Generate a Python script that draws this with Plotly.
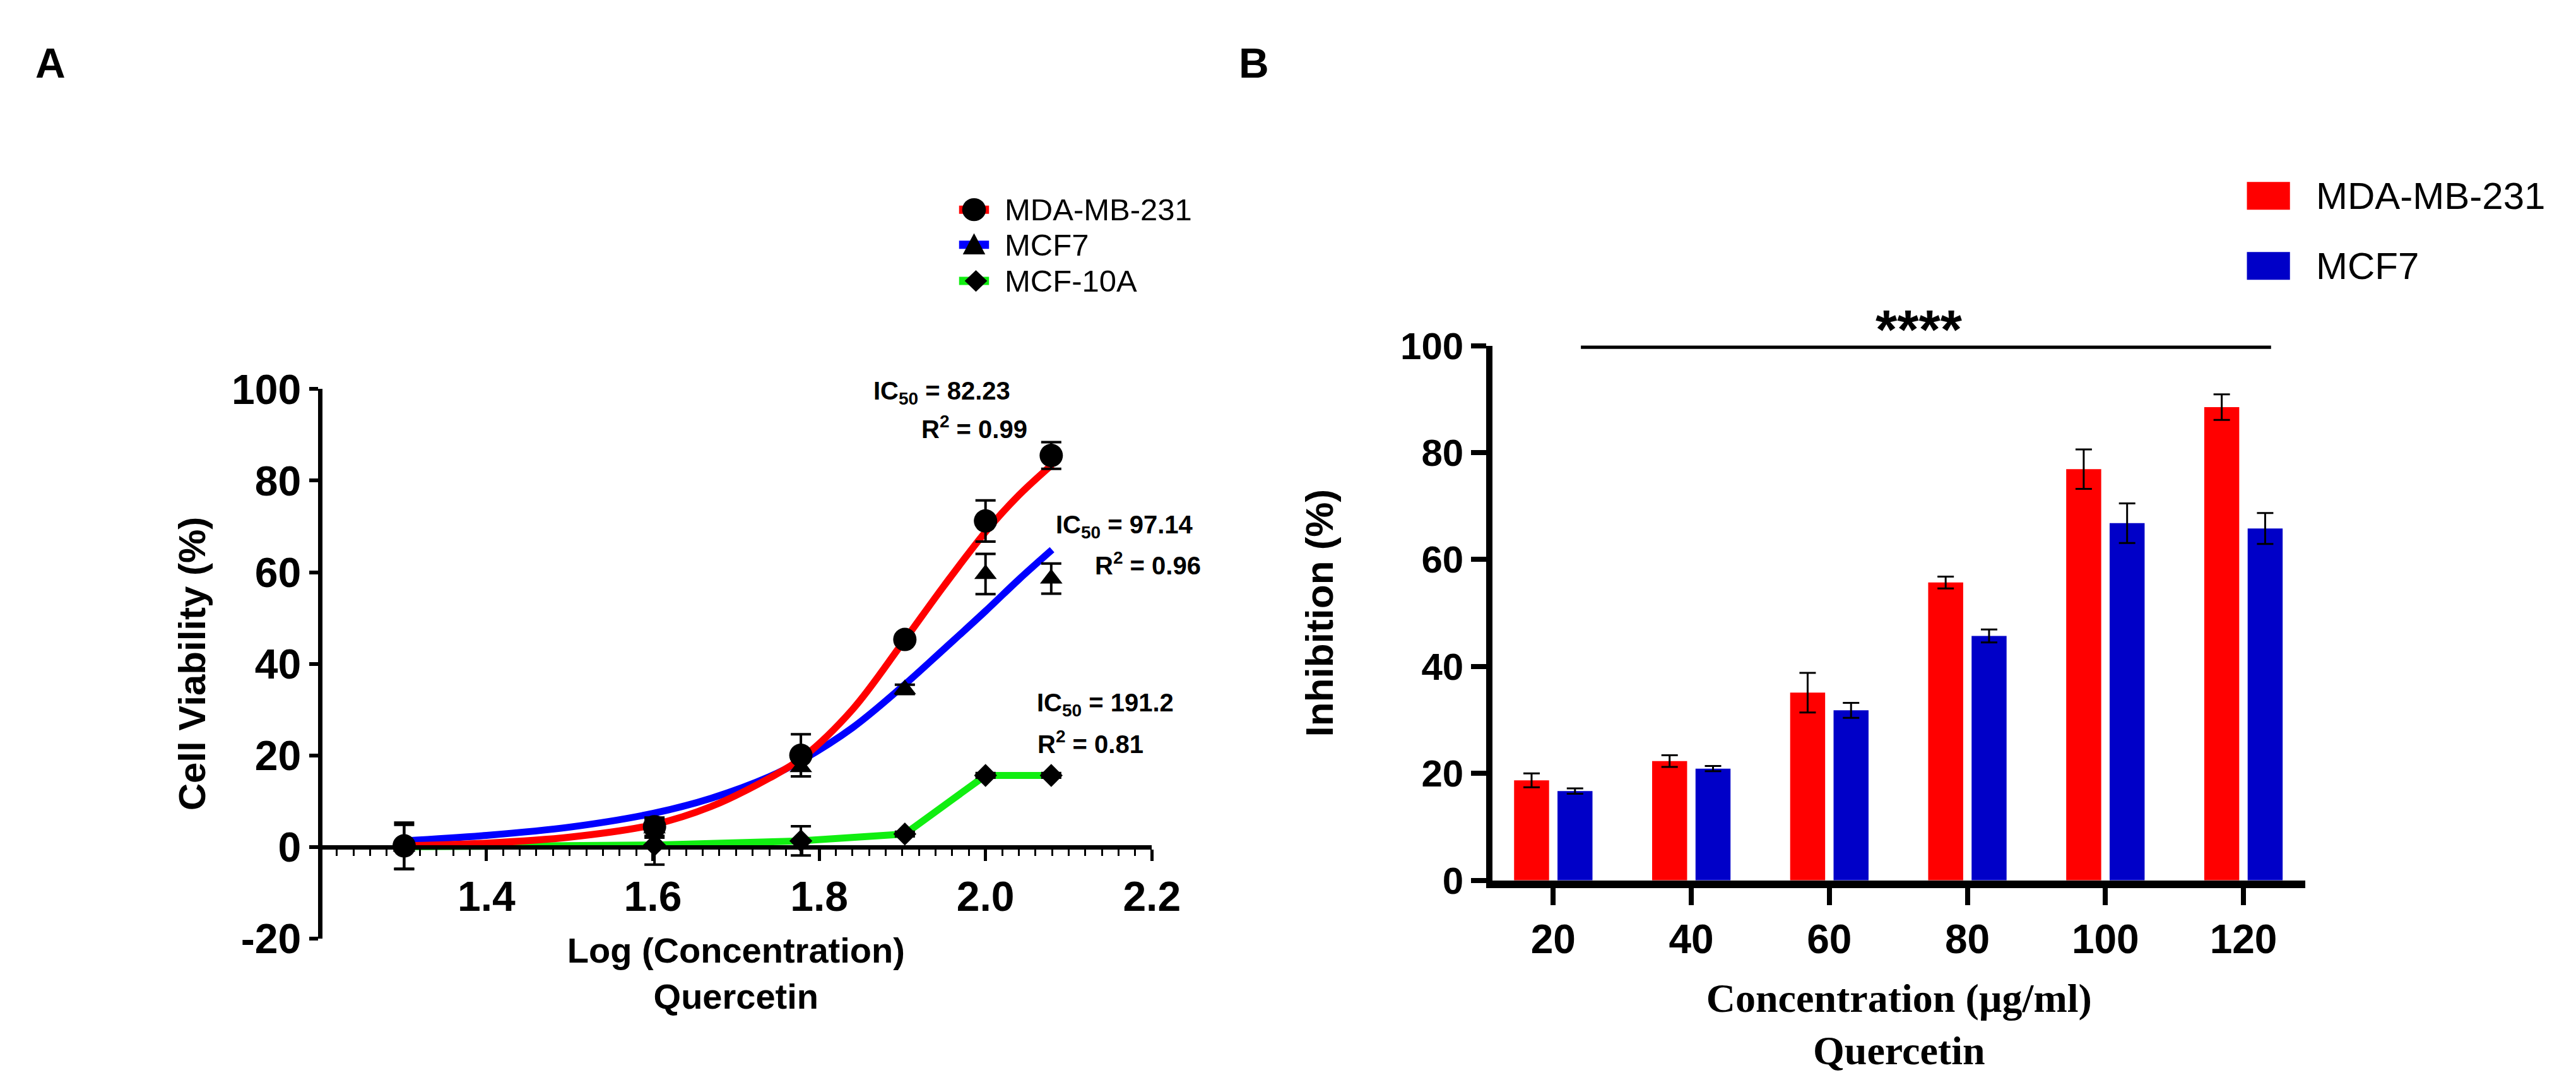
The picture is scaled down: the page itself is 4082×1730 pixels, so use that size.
import plotly.graph_objects as go

W, H = 4082, 1730

# ---- Panel A: cell viability vs log(concentration) ----
log_conc = [1.301, 1.602, 1.778, 1.903, 2.000, 2.079]
mda_viab = [0.2, 4.4, 20.0, 45.3, 71.2, 85.5]
mda_err = [5.1, 2.0, 4.6, 1.0, 4.5, 2.9]
mcf7_viab = [0.0, 4.0, 17.4, 34.4, 59.6, 58.6]
mcf7_err = [4.8, 2.0, 2.0, 1.0, 4.4, 3.3]
mcf10a_viab = [0.0, 0.4, 1.3, 2.8, 15.6, 15.6]
mcf10a_err = [0.5, 4.3, 3.2, 0.5, 0.5, 0.5]

# fitted curves
fit_x = [1.30, 1.40, 1.50, 1.60, 1.67, 1.74, 1.78, 1.84, 1.90, 1.95, 2.00, 2.04, 2.08]
mda_fit = [0.2, 0.8, 2.1, 4.8, 8.8, 15.0, 19.5, 30.0, 44.5, 57.0, 68.8, 76.8, 83.5]
mcf7_fit = [1.3, 2.5, 4.3, 7.3, 10.6, 15.3, 19.0, 26.0, 35.0, 43.2, 51.5, 58.4, 64.9]

a_ticks = [1.4, 1.6, 1.8, 2.0, 2.2]
a_yticks = [-20, 0, 20, 40, 60, 80, 100]

# ---- Panel B: inhibition bars ----
conc_labels = ["20", "40", "60", "80", "100", "120"]
mda_inh = [18.7, 22.3, 35.1, 55.7, 76.9, 88.5]
mda_inh_err = [1.3, 1.1, 3.7, 1.1, 3.7, 2.4]
mcf7_inh = [16.7, 20.9, 31.8, 45.7, 66.8, 65.8]
mcf7_inh_err = [0.5, 0.5, 1.4, 1.2, 3.7, 2.9]

RED = "#FF0000"
BLUE_LINE = "#0000FF"
BLUE_BAR = "#0000C8"
GREEN = "#11EE11"
SANS = "Liberation Sans"
SERIF = "Liberation Serif"


def fx(p):
    return p / W


def fy(p):
    return 1 - p / H


xA = [fx(505), fx(1838)]
yA = [fy(1506), fy(597)]
xB = [fx(2384), fx(3687)]
yB = [fy(1410), fy(525)]
zeroA = yA[0] + (yA[1] - yA[0]) * 20 / 120

fig = go.Figure()

# fitted curves (drawn under the points)
fig.add_trace(go.Scatter(x=log_conc, y=mcf10a_viab, mode="lines",
                         line=dict(color=GREEN, width=11),
                         showlegend=False, hoverinfo="skip"))
fig.add_trace(go.Scatter(x=fit_x, y=mcf7_fit, mode="lines",
                         line=dict(color=BLUE_LINE, width=11, shape="spline"),
                         showlegend=False, hoverinfo="skip"))
fig.add_trace(go.Scatter(x=fit_x, y=mda_fit, mode="lines",
                         line=dict(color=RED, width=11, shape="spline"),
                         showlegend=False, hoverinfo="skip"))

# measured points
series_a = [
    ("MCF-10A", mcf10a_viab, mcf10a_err, "diamond", 28),
    ("MCF7", mcf7_viab, mcf7_err, "triangle-up", 31),
    ("MDA-MB-231", mda_viab, mda_err, "circle", 37),
]
for name, vals, err, sym, size in series_a:
    fig.add_trace(go.Scatter(
        x=log_conc, y=vals, mode="markers", name=name,
        marker=dict(symbol=sym, size=size, color="black"),
        error_y=dict(type="data", array=err, color="black", thickness=4, width=16),
        showlegend=False))

# bars
for name, vals, err, color in [("MDA-MB-231", mda_inh, mda_inh_err, RED),
                               ("MCF7", mcf7_inh, mcf7_inh_err, BLUE_BAR)]:
    fig.add_trace(go.Bar(
        x=conc_labels, y=vals, name=name, marker=dict(color=color, line=dict(width=0)),
        error_y=dict(type="data", array=err, color="black", thickness=3, width=13),
        xaxis="x2", yaxis="y2", showlegend=False))

shapes = []
annotations = []

# legend A (drawn by hand so the symbols keep their size)
leg_a = [("MDA-MB-231", RED, "circle", 300),
         ("MCF7", BLUE_LINE, "triangle", 358),
         ("MCF-10A", GREEN, "diamond", 418)]
cx, r = 1553, 19
for name, color, sym, yc in leg_a:
    shapes.append(dict(type="line", xref="paper", yref="paper",
                       x0=fx(cx - 24), x1=fx(cx + 24), y0=fy(yc), y1=fy(yc),
                       line=dict(color=color, width=13)))
    if sym == "circle":
        shapes.append(dict(type="circle", xref="paper", yref="paper",
                           x0=fx(cx - r), x1=fx(cx + r), y0=fy(yc + r), y1=fy(yc - r),
                           fillcolor="black", line=dict(width=0)))
    elif sym == "triangle":
        pts = [(cx, yc - 19), (cx + 18, yc + 16), (cx - 18, yc + 16)]
        path = "M " + " L ".join(f"{fx(a):.5f},{fy(b):.5f}" for a, b in pts) + " Z"
        shapes.append(dict(type="path", xref="paper", yref="paper", path=path,
                           fillcolor="black", line=dict(width=0)))
    else:
        pts = [(cx + 3, yc - 18), (cx + 21, yc), (cx + 3, yc + 18), (cx - 15, yc)]
        path = "M " + " L ".join(f"{fx(a):.5f},{fy(b):.5f}" for a, b in pts) + " Z"
        shapes.append(dict(type="path", xref="paper", yref="paper", path=path,
                           fillcolor="black", line=dict(width=0)))
    annotations.append(dict(text=name, xref="paper", yref="paper", x=fx(1600), y=fy(yc),
                            xanchor="left", yanchor="middle", showarrow=False,
                            font=dict(family=SANS, size=49, color="black")))

# legend B
for name, color, yc in [("MDA-MB-231", RED, 277), ("MCF7", BLUE_BAR, 393)]:
    shapes.append(dict(type="rect", xref="paper", yref="paper",
                       x0=fx(3593), x1=fx(3662), y0=fy(yc + 23), y1=fy(yc - 23),
                       fillcolor=color, line=dict(width=0)))
    annotations.append(dict(text=name, xref="paper", yref="paper", x=fx(3702), y=fy(yc),
                            xanchor="left", yanchor="middle", showarrow=False,
                            font=dict(family=SANS, size=60, color="black")))

# significance bar
shapes.append(dict(type="line", xref="x2", yref="y2", x0=0.2, x1=5.2, y0=99.8, y1=99.8,
                   line=dict(color="black", width=7)))
annotations.append(dict(text="****", xref="x2", yref="y2", x=2.65, y=100, yshift=26,
                        xanchor="center", yanchor="middle", showarrow=False,
                        font=dict(family=SANS, size=88, color="black", weight="bold")))

# IC50 labels
ic_labels = [
    ("IC<sub>50</sub> = 82.23", 1.864, 99.2),
    ("R<sup>2</sup> = 0.99", 1.921, 91.6),
    ("IC<sub>50</sub> = 97.14", 2.083, 70.0),
    ("R<sup>2</sup> = 0.96", 2.130, 61.9),
    ("IC<sub>50</sub> = 191.2", 2.060, 31.1),
    ("R<sup>2</sup> = 0.81", 2.061, 22.8),
]
for txt, x, y in ic_labels:
    annotations.append(dict(text=txt, xref="x", yref="y", x=x, y=y,
                            xanchor="left", yanchor="middle", showarrow=False,
                            font=dict(family=SANS, size=40, color="black", weight="bold")))

# panel letters
for letter, x in [("A", 73), ("B", 2002)]:
    annotations.append(dict(text=letter, xref="paper", yref="paper", x=fx(x), y=fy(57),
                            xanchor="center", yanchor="middle", showarrow=False,
                            font=dict(family=SANS, size=66, color="black", weight="bold")))

tick_bold = dict(family=SANS, color="black", weight="bold")

fig.update_layout(
    width=W, height=H,
    margin=dict(l=0, r=0, t=0, b=0),
    paper_bgcolor="white", plot_bgcolor="white",
    showlegend=False,
    barmode="group", bargap=0.371, bargroupgap=0.194,
    xaxis=dict(
        domain=xA, anchor="free", position=zeroA, range=[1.2, 2.2],
        tickvals=a_ticks, tickformat=".1f",
        ticks="outside", ticklen=18, tickwidth=5, tickcolor="black",
        showline=True, linewidth=7, linecolor="black",
        showgrid=False, zeroline=False,
        minor=dict(dtick=0.02, tick0=1.2, ticks="outside", ticklen=10, tickwidth=3,
                   tickcolor="black", showgrid=False),
        tickfont=dict(size=66, **tick_bold),
        title=dict(text="Log (Concentration)<br>Quercetin", standoff=30,
                   font=dict(size=56, **tick_bold)),
    ),
    yaxis=dict(
        domain=yA, anchor="free", position=xA[0], range=[-20, 100],
        tickvals=a_yticks, ticktext=[str(v) for v in a_yticks],
        ticks="outside", ticklen=14, tickwidth=6, tickcolor="black",
        showline=True, linewidth=7, linecolor="black",
        showgrid=False, zeroline=False,
        tickfont=dict(size=66, **tick_bold),
        title=dict(text="Cell Viability (%)", standoff=20,
                   font=dict(size=60, **tick_bold)),
    ),
    xaxis2=dict(
        domain=xB, anchor="y2", type="category", range=[-0.44, 5.45],
        ticks="outside", ticklen=27, tickwidth=8, tickcolor="black",
        showline=True, linewidth=12, linecolor="black",
        showgrid=False, zeroline=False,
        tickfont=dict(size=64, **tick_bold),
        title=dict(text="Concentration (µg/ml)<br>Quercetin", standoff=40,
                   font=dict(family=SERIF, size=64, color="black", weight="bold")),
    ),
    yaxis2=dict(
        domain=yB, anchor="x2", range=[0, 100], dtick=20,
        ticks="outside", ticklen=24, tickwidth=8, tickcolor="black",
        showline=True, linewidth=10, linecolor="black",
        showgrid=False, zeroline=False,
        tickfont=dict(size=60, **tick_bold),
        title=dict(text="Inhibition (%)", standoff=90,
                   font=dict(size=62, **tick_bold)),
    ),
    shapes=shapes,
    annotations=annotations,
)

fig.write_html("out.html")
